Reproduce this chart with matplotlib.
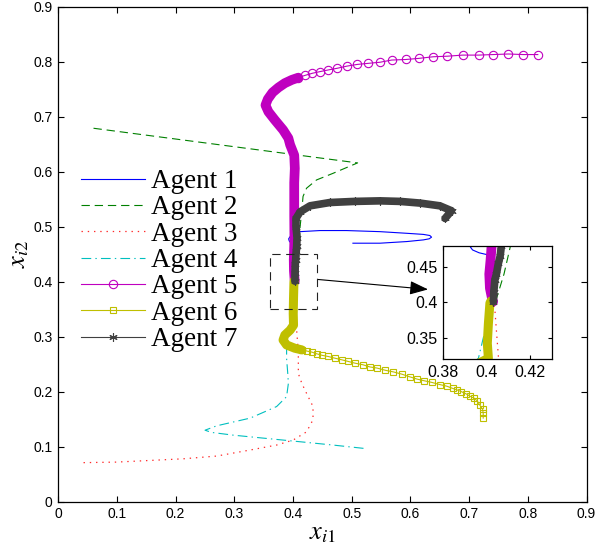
import matplotlib
matplotlib.use('Agg')
import matplotlib.pyplot as plt
from matplotlib.patches import Rectangle
from matplotlib.font_manager import FontProperties

plt.rcParams['lines.scale_dashes'] = False
plt.rcParams['mathtext.fontset'] = 'stix'
plt.rcParams['font.family'] = ['Liberation Sans', 'DejaVu Sans']

labels = ['Agent 1', 'Agent 2', 'Agent 3', 'Agent 4', 'Agent 5', 'Agent 6', 'Agent 7']

# Agent 1 (blue solid)
a1_x = [0.502, 0.548, 0.594, 0.622, 0.632, 0.636, 0.633, 0.622, 0.594, 0.548, 0.491, 0.446, 0.412,
        0.395, 0.3925, 0.3935, 0.3965, 0.400, 0.402]
a1_y = [0.470, 0.470, 0.473, 0.476, 0.478, 0.481, 0.484, 0.486, 0.488, 0.491, 0.493, 0.493, 0.491,
        0.482, 0.478, 0.474, 0.470, 0.4675, 0.467]
# Agent 2 (green dashed)
a2_x = [0.060, 0.510, 0.490, 0.468, 0.440, 0.423, 0.417, 0.415, 0.412, 0.411, 0.408, 0.405, 0.404]
a2_y = [0.679, 0.616, 0.607, 0.597, 0.585, 0.570, 0.555, 0.530, 0.500, 0.480, 0.440, 0.410, 0.400]
# Agent 3 (red dotted)
a3_x = [0.043, 0.099, 0.156, 0.213, 0.270, 0.327, 0.372, 0.400, 0.423, 0.434, 0.434, 0.423, 0.415,
        0.409, 0.409, 0.407, 0.4055, 0.4045, 0.4038, 0.403]
a3_y = [0.071, 0.072, 0.075, 0.078, 0.083, 0.094, 0.103, 0.112, 0.127, 0.149, 0.173, 0.197, 0.215,
        0.233, 0.270, 0.300, 0.320, 0.360, 0.389, 0.400]
# Agent 4 (cyan dash-dot)
a4_x = [0.520, 0.468, 0.412, 0.355, 0.298, 0.261, 0.250, 0.270, 0.327, 0.372, 0.389, 0.392, 0.391,
        0.389, 0.389, 0.392, 0.3962, 0.3997, 0.401, 0.402]
a4_y = [0.097, 0.103, 0.109, 0.115, 0.121, 0.126, 0.130, 0.138, 0.152, 0.173, 0.191, 0.215, 0.233,
        0.260, 0.285, 0.310, 0.321, 0.366, 0.390, 0.400]
# Agent 5 (magenta circles): sparse part, then settled dense part
a5_sx = [0.817, 0.792, 0.767, 0.741, 0.716, 0.689, 0.663, 0.639, 0.614, 0.592, 0.568, 0.548, 0.528,
         0.509, 0.492, 0.475, 0.460, 0.446, 0.433, 0.420, 0.409]
a5_sy = [0.813, 0.813, 0.814, 0.813, 0.812, 0.812, 0.810, 0.809, 0.806, 0.804, 0.803, 0.799, 0.797,
         0.795, 0.792, 0.788, 0.785, 0.782, 0.779, 0.775, 0.771]
a5_dx = [0.409, 0.398, 0.386, 0.375, 0.365, 0.357, 0.353, 0.358, 0.369, 0.383, 0.392, 0.395, 0.402,
         0.403, 0.402, 0.402, 0.4023, 0.4018, 0.4012, 0.4015, 0.4025, 0.403]
a5_dy = [0.771, 0.767, 0.761, 0.753, 0.744, 0.732, 0.721, 0.709, 0.694, 0.676, 0.661, 0.649, 0.630,
         0.606, 0.580, 0.520, 0.480, 0.460, 0.440, 0.420, 0.405, 0.401]
# Agent 6 (olive squares)
a6_sx = [0.724, 0.724, 0.723, 0.718, 0.714, 0.709, 0.701, 0.695, 0.687, 0.680, 0.672, 0.662, 0.650,
         0.636, 0.623, 0.611, 0.599, 0.585, 0.571, 0.557, 0.543, 0.531, 0.519, 0.505, 0.494, 0.483,
         0.471, 0.460, 0.450, 0.440, 0.432, 0.423, 0.415]
a6_sy = [0.152, 0.161, 0.168, 0.176, 0.183, 0.188, 0.192, 0.196, 0.200, 0.203, 0.206, 0.210, 0.213,
         0.217, 0.220, 0.223, 0.227, 0.232, 0.236, 0.239, 0.243, 0.245, 0.249, 0.252, 0.255, 0.258,
         0.261, 0.264, 0.266, 0.269, 0.272, 0.274, 0.276]
a6_dx = [0.415, 0.403, 0.389, 0.383, 0.386, 0.395, 0.4008, 0.4003, 0.4008, 0.4015, 0.402]
a6_dy = [0.276, 0.279, 0.285, 0.294, 0.303, 0.312, 0.321, 0.342, 0.370, 0.399, 0.402]
# Agent 7 (dark grey asterisks)
a7_x = [0.659, 0.670, 0.650, 0.616, 0.582, 0.548, 0.505, 0.463, 0.429, 0.412, 0.405, 0.405, 0.4068,
        0.4062, 0.4054, 0.4045, 0.4038, 0.4033, 0.4031]
a7_y = [0.515, 0.529, 0.538, 0.543, 0.546, 0.547, 0.546, 0.544, 0.538, 0.527, 0.515, 0.500, 0.480,
        0.465, 0.455, 0.440, 0.432, 0.415, 0.401]

main_ticks = [0, 0.1, 0.2, 0.3, 0.4, 0.5, 0.6, 0.7, 0.8, 0.9]
main_ticklabels = ['0', '0.1', '0.2', '0.3', '0.4', '0.5', '0.6', '0.7', '0.8', '0.9']
inset_xticks = [0.38, 0.40, 0.42]
inset_xticklabels = ['0.38', '0.4', '0.42']
inset_yticks = [0.35, 0.40, 0.45]
inset_yticklabels = ['0.35', '0.4', '0.45']

C_BLUE = '#0000ff'
C_GREEN = '#008000'
C_RED = '#ff2a2a'
C_CYAN = '#00bfbf'
C_MAG = '#bf00bf'
C_YEL = '#bfbf00'
C_GREY = '#404040'
ASTERISK = (6, 2, 0)


def draw(ax):
    ax.plot(a1_x, a1_y, color=C_BLUE, lw=0.8, label=labels[0])
    ax.plot(a2_x, a2_y, color=C_GREEN, lw=0.8, dashes=(6, 3.5), label=labels[1])
    ax.plot(a3_x, a3_y, color=C_RED, lw=0.9, dashes=(1, 3.5), label=labels[2])
    ax.plot(a4_x, a4_y, color=C_CYAN, lw=0.8, dashes=(7, 3, 1, 3), label=labels[3])
    ax.plot(a5_sx, a5_sy, color=C_MAG, lw=0.8, marker='o', ms=6, mfc='none', mew=0.8,
            label=labels[4])
    ax.plot(a5_dx, a5_dy, color=C_MAG, lw=7, solid_capstyle='round', solid_joinstyle='round')
    ax.plot(a6_sx, a6_sy, color=C_YEL, lw=0.8, marker='s', ms=4.5, mfc='none', mew=0.8,
            label=labels[5])
    ax.plot(a6_dx, a6_dy, color=C_YEL, lw=6.5, solid_capstyle='round', solid_joinstyle='round')
    ax.plot(a7_x, a7_y, color=C_GREY, lw=5.5, solid_capstyle='round', solid_joinstyle='round')
    ax.plot(a7_x, a7_y, color=C_GREY, lw=0.8, marker=ASTERISK, ms=6, mew=0.8, label=labels[6])


fig = plt.figure(figsize=(5.98, 5.46), dpi=100)
ax = fig.add_axes([58.3 / 598, 44.3 / 546, (586.5 - 58.3) / 598, 495 / 546])
draw(ax)
ax.set_xlim(0, 0.9)
ax.set_ylim(0, 0.9)
ax.set_xticks(main_ticks)
ax.set_xticklabels(main_ticklabels)
ax.set_yticks(main_ticks)
ax.set_yticklabels(main_ticklabels)
ax.tick_params(direction='in', top=True, right=True, length=4, width=0.8, labelsize=10, pad=4)
for s in ax.spines.values():
    s.set_linewidth(0.9)
ax.set_xlabel(r'$x_{i1}$', fontsize=19, labelpad=0)
ax.set_ylabel(r'$x_{i2}$', fontsize=19, labelpad=2)

ax.add_patch(Rectangle((0.36, 0.35), 0.08, 0.10, fill=False, ec='#222222', lw=0.8,
                       ls=(0, (6, 4)), zorder=5))
ax.annotate('', xy=(0.630, 0.386), xytext=(0.443, 0.404),
            arrowprops=dict(arrowstyle='-|>,head_length=0.8,head_width=0.3', color='k', lw=0.8,
                            mutation_scale=14, shrinkA=0, shrinkB=0))

leg = ax.legend(loc='upper left', bbox_to_anchor=(81 / 598, 1 - 169 / 546),
                bbox_transform=fig.transFigure, frameon=False,
                prop=FontProperties(family='Liberation Serif', size=19.5),
                handlelength=2.35, handletextpad=0.25, labelspacing=0.05, borderpad=0,
                borderaxespad=0, numpoints=1)

ins = fig.add_axes([443.3 / 598, (546 - 359) / 546, 108.4 / 598, 113.3 / 546])
draw(ins)
ins.set_xlim(0.38, 0.43)
ins.set_ylim(0.32, 0.48)
ins.set_xticks(inset_xticks)
ins.set_xticklabels(inset_xticklabels)
ins.set_yticks(inset_yticks)
ins.set_yticklabels(inset_yticklabels)
ins.tick_params(direction='in', top=True, right=True, length=3, width=0.8, labelsize=11.5, pad=4)
for s in ins.spines.values():
    s.set_linewidth(0.9)

fig.savefig('out.png', dpi=100)
